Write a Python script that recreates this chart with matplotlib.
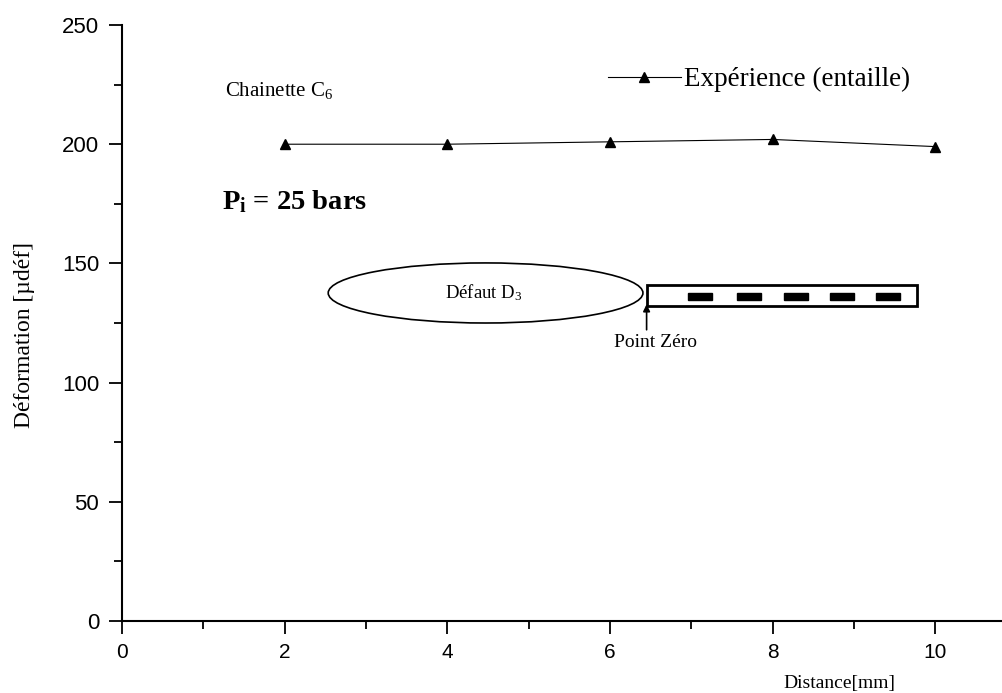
import matplotlib
matplotlib.use("Agg")
import matplotlib.pyplot as plt
from matplotlib.patches import Ellipse, Rectangle
from matplotlib.ticker import MultipleLocator

distance = [2, 4, 6, 8, 10]
deformation = [200, 200, 201, 202, 199]
series_label = "Expérience (entaille)"
dash_centers = [7.11, 7.71, 8.29, 8.85, 9.42]

plt.rcParams["mathtext.fontset"] = "custom"
plt.rcParams["mathtext.rm"] = "Liberation Serif"
plt.rcParams["mathtext.it"] = "Liberation Serif:italic"
plt.rcParams["mathtext.bf"] = "Liberation Serif:bold"

serif = ["Liberation Serif", "DejaVu Serif"]
sans = ["Liberation Sans", "DejaVu Sans"]

fig = plt.figure(figsize=(10.02, 6.93), dpi=100)
ax = fig.add_axes([0.1218, 0.1039, 0.8782, 0.86])

ax.plot(distance, deformation, color="black", lw=0.8, marker="^", markersize=7,
        label=series_label)

ax.set_xlim(0, 10.82)
ax.set_ylim(0, 250)
ax.xaxis.set_major_locator(MultipleLocator(2))
ax.xaxis.set_minor_locator(MultipleLocator(1))
ax.yaxis.set_major_locator(MultipleLocator(50))
ax.yaxis.set_minor_locator(MultipleLocator(25))
for s in ["top", "right"]:
    ax.spines[s].set_visible(False)
for s in ["left", "bottom"]:
    ax.spines[s].set_linewidth(1.5)
ax.tick_params(which="major", direction="out", length=9.5, width=1.3, labelsize=15, pad=6)
ax.tick_params(which="minor", direction="out", length=5.5, width=1.3)
ax.tick_params(axis="y", which="major", labelsize=16, pad=7)
for lab in ax.get_xticklabels() + ax.get_yticklabels():
    lab.set_family(sans)

ax.set_xlabel("Distance[mm]", family=serif, fontsize=14)
ax.xaxis.set_label_coords(0.815, -0.09)
ax.set_ylabel("Déformation [µdéf]", family=serif, fontsize=17)
ax.yaxis.set_label_coords(-0.099, 0.48)

leg = ax.legend(loc="center left", bbox_to_anchor=(0.552, 0.908), frameon=False,
                borderpad=0, borderaxespad=0,
                handlelength=2.7, handletextpad=0.12, prop={"family": serif, "size": 19.5})

ax.text(1.27, 222.5, "Chainette C$_{6}$", family=serif, fontsize=15, va="center")
ax.text(1.23, 176, "P$_\\mathbf{i}$ = 25 bars", family=serif, fontsize=20.5,
        fontweight="bold", va="center")

ell = Ellipse((4.47, 137.6), 3.87, 25.2, fill=False, ec="black", lw=1.2)
ax.add_patch(ell)
ax.text(3.97, 137.6, "Défaut D$_{3}$", family=serif, fontsize=13.5, va="center")

rect = Rectangle((6.45, 132.1), 3.33, 8.8, fill=False, ec="black", lw=2)
ax.add_patch(rect)
for c in dash_centers:
    ax.add_patch(Rectangle((c - 0.145, 134.7), 0.29, 3.0, color="black"))

ax.annotate("", xy=(6.45, 134), xytext=(6.45, 121),
            arrowprops=dict(arrowstyle="-|>", color="black", lw=1.2, mutation_scale=10))
ax.text(6.56, 117, "Point Zéro", family=serif, fontsize=14, ha="center", va="center")

fig.savefig("out.png", dpi=100)
